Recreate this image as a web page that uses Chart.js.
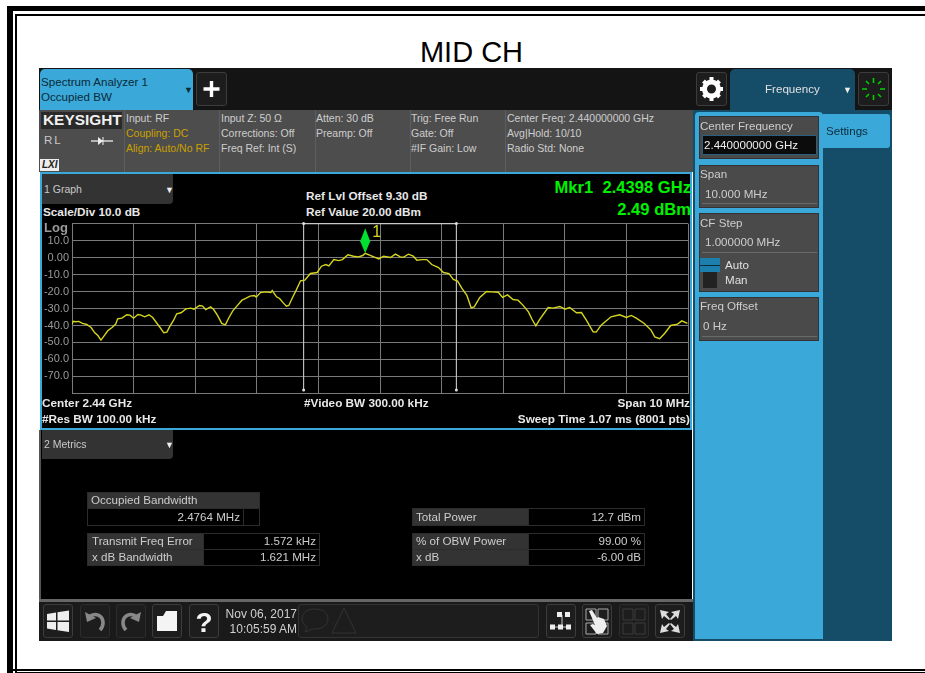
<!DOCTYPE html>
<html>
<head>
<meta charset="utf-8">
<title>MID CH</title>
<script src="https://cdn.jsdelivr.net/npm/chart.js@4"></script>
<style>
  html, body { margin: 0; padding: 0; background: #fff; overflow: hidden; }
  body { width: 925px; height: 673px; position: relative; font-family: "Liberation Sans", Arial, sans-serif; }
  .abs, .t { position: absolute; }
  .t { white-space: nowrap; font-size: 11.6px; line-height: 14px; color: #cdcdcd; }
  .b { font-weight: bold; color: #e8e8e8; }
  .r { text-align: right; }
  .y { color: #c9a000; }
  .g { color: #00f000; font-weight: bold; font-size: 16.6px; line-height: 18px; }
  .sm { font-size: 10.5px; }
  .bt { font-size: 11.75px; }
  .card { position: absolute; background: #4a4a4a; border: 1px solid #333; box-sizing: border-box; }
  .btn { position: absolute; background: #1d1d1d; border: 1px solid #3c3c3c; border-radius: 3px; box-sizing: border-box; }
  .btn svg { position: absolute; left: 0; top: 0; }
  .cell { position: absolute; box-sizing: border-box; border: 1px solid #2c2c2c; background: #000; }
  .lab { background: #333; }
  #screen { position: absolute; left: 0; top: 0; width: 925px; height: 673px; filter: blur(0.35px); }
</style>
</head>
<body>
<!-- page frame -->
<div class="abs" style="left:7px;top:6px;width:918px;height:5px;background:#000"></div>
<div class="abs" style="left:7px;top:6px;width:6px;height:667px;background:#000"></div>
<div class="abs" style="left:15px;top:14px;width:910px;height:2px;background:#000"></div>
<div class="abs" style="left:15px;top:14px;width:2px;height:659px;background:#000"></div>
<div class="abs" style="left:7px;top:669px;width:918px;height:2px;background:#000"></div>
<div class="abs" style="left:15px;top:672px;width:910px;height:1px;background:#000"></div>
<div class="t" style="left:0;top:36px;width:943px;text-align:center;font-size:29px;line-height:32px;color:#000">MID CH</div>

<div id="screen">
  <div class="abs" style="left:39px;top:68px;width:853px;height:42px;background:#141414"></div>
  <!-- left tab -->
  <div class="abs" style="left:40px;top:69px;width:153px;height:41px;background:#3aa8d8;border-radius:5px 5px 0 0"></div>
  <div class="t" style="left:41px;top:74px;color:#0b2a3a;line-height:15px">Spectrum Analyzer 1<br>Occupied BW</div>
  <div class="t" style="left:184px;top:83px;color:#0b2a3a;font-size:9px">▼</div>
  <div class="btn" style="left:196px;top:72px;width:31px;height:34px"><svg width="29" height="32"><path d="M14.5 8v16M6.5 16h16" stroke="#fff" stroke-width="3.4"/></svg></div>

  <!-- info bar -->
  <div class="abs" style="left:39px;top:110px;width:654px;height:62px;background:#4d4d4d"></div>
  <div class="abs" style="left:41px;top:112px;width:81px;height:17px;background:#2a2a2a"></div>
  <div class="t" style="left:43px;top:111px;font-size:15.4px;line-height:17px;font-weight:bold;color:#f0f0f0">KEYSIGHT</div>
  <div class="abs" style="left:124px;top:110px;width:1px;height:62px;background:#5e5e5e"></div>
  <div class="abs" style="left:219px;top:110px;width:1px;height:62px;background:#5e5e5e"></div>
  <div class="abs" style="left:315px;top:110px;width:1px;height:62px;background:#5e5e5e"></div>
  <div class="abs" style="left:410px;top:110px;width:1px;height:62px;background:#5e5e5e"></div>
  <div class="abs" style="left:505px;top:110px;width:1px;height:62px;background:#5e5e5e"></div>
  <div class="t" style="left:44px;top:133px;letter-spacing:2px;color:#c8c8c8">RL</div>
  <svg class="abs" style="left:90px;top:135px" width="24" height="12"><path d="M1 6h22" stroke="#eee" stroke-width="1.3"/><path d="M8 2l5 4-5 4z" fill="#eee"/><path d="M13 2v8" stroke="#eee"/></svg>
  <div class="abs" style="left:40px;top:159px;width:19px;height:12px;background:#eee"></div>
  <div class="t" style="left:42px;top:158px;font-size:10px;font-weight:bold;font-style:italic;color:#222">LXI</div>

  <div class="t sm" style="left:126px;top:111px;line-height:15px">Input: RF<br><span class="y">Coupling: DC<br>Align: Auto/No RF</span></div>
  <div class="t sm" style="left:221px;top:111px;line-height:15px">Input Z: 50 Ω<br>Corrections: Off<br>Freq Ref: Int (S)</div>
  <div class="t sm" style="left:316px;top:111px;line-height:15px">Atten: 30 dB<br>Preamp: Off</div>
  <div class="t sm" style="left:411px;top:111px;line-height:15px">Trig: Free Run<br>Gate: Off<br>#IF Gain: Low</div>
  <div class="t sm" style="left:507px;top:111px;line-height:15px">Center Freq: 2.440000000 GHz<br>Avg|Hold: 10/10<br>Radio Std: None</div>

  <!-- graph window -->
  <div class="abs" style="left:40px;top:172px;width:652px;height:258px;background:#000;box-sizing:border-box;border:2px solid #3aa8d8"></div>
  <div class="abs" style="left:42px;top:174px;width:131px;height:30px;background:#333;border-radius:0 0 4px 0"></div>
  <div class="t sm" style="left:44px;top:182px;color:#c8c8c8">1 Graph</div>
  <div class="t" style="left:165px;top:183px;font-size:9px;color:#eee">▼</div>
  <div class="t b bt" style="left:43px;top:205px">Scale/Div 10.0 dB</div>
  <div class="t b bt" style="left:306px;top:189px">Ref Lvl Offset 9.30 dB</div>
  <div class="t b bt" style="left:306px;top:205px">Ref Value 20.00 dBm</div>
  <div class="t g r" style="left:490px;top:179px;width:201px">Mkr1&nbsp; 2.4398 GHz</div>
  <div class="t g r" style="left:490px;top:201px;width:201px">2.49 dBm</div>
  <div class="abs" style="left:42px;top:214px;width:650px;height:189px">
    <canvas id="trace" width="650" height="189" style="display:block;width:650px;height:189px"></canvas>
  </div>
  <div class="t" style="left:44px;top:221px;color:#9a9a9a;font-weight:bold;font-size:13px">Log</div>
  <div class="t b bt" style="left:42px;top:396px">Center 2.44 GHz</div>
  <div class="t b bt" style="left:42px;top:412px">#Res BW 100.00 kHz</div>
  <div class="t b bt" style="left:304px;top:396px">#Video BW 300.00 kHz</div>
  <div class="t b bt r" style="left:490px;top:396px;width:200px">Span 10 MHz</div>
  <div class="t b bt r" style="left:440px;top:412px;width:250px">Sweep Time 1.07 ms (8001 pts)</div>

  <!-- metrics window -->
  <div class="abs" style="left:40px;top:430px;width:652px;height:172px;background:#000"></div>
  <div class="abs" style="left:39px;top:430px;width:2px;height:172px;background:#555"></div>
  <div class="abs" style="left:42px;top:430px;width:131px;height:29px;background:#333;border-radius:0 0 4px 0"></div>
  <div class="t sm" style="left:44px;top:437px;color:#c8c8c8">2 Metrics</div>
  <div class="t" style="left:165px;top:438px;font-size:9px;color:#eee">▼</div>

  <div class="cell lab" style="left:87px;top:492px;width:173px;height:17px"></div>
  <div class="t" style="left:91px;top:493px">Occupied Bandwidth</div>
  <div class="cell" style="left:87px;top:508px;width:157px;height:18px"></div>
  <div class="cell" style="left:243px;top:508px;width:17px;height:18px"></div>
  <div class="t r" style="left:90px;top:510px;width:150px">2.4764 MHz</div>

  <div class="cell lab" style="left:87px;top:533px;width:117px;height:17px"></div>
  <div class="cell lab" style="left:87px;top:549px;width:117px;height:17px"></div>
  <div class="cell" style="left:203px;top:533px;width:117px;height:17px"></div>
  <div class="cell" style="left:203px;top:549px;width:117px;height:17px"></div>
  <div class="t" style="left:92px;top:534px">Transmit Freq Error</div>
  <div class="t" style="left:92px;top:550px">x dB Bandwidth</div>
  <div class="t r" style="left:210px;top:534px;width:106px">1.572 kHz</div>
  <div class="t r" style="left:210px;top:550px;width:106px">1.621 MHz</div>

  <div class="cell lab" style="left:412px;top:508px;width:117px;height:18px"></div>
  <div class="cell" style="left:528px;top:508px;width:117px;height:18px"></div>
  <div class="t" style="left:416px;top:510px">Total Power</div>
  <div class="t r" style="left:535px;top:510px;width:106px">12.7 dBm</div>
  <div class="cell lab" style="left:412px;top:533px;width:117px;height:17px"></div>
  <div class="cell lab" style="left:412px;top:549px;width:117px;height:17px"></div>
  <div class="cell" style="left:528px;top:533px;width:117px;height:17px"></div>
  <div class="cell" style="left:528px;top:549px;width:117px;height:17px"></div>
  <div class="t" style="left:416px;top:534px">% of OBW Power</div>
  <div class="t" style="left:416px;top:550px">x dB</div>
  <div class="t r" style="left:535px;top:534px;width:106px">99.00 %</div>
  <div class="t r" style="left:535px;top:550px;width:106px">-6.00 dB</div>

  <!-- bottom bar -->
  <div class="abs" style="left:39px;top:599px;width:654px;height:3px;background:#666"></div>
  <div class="abs" style="left:39px;top:602px;width:654px;height:39px;background:#1a1a1a"></div>
  <div class="btn" style="left:43px;top:604px;width:30px;height:34px"><svg width="28" height="32"><path d="M3 9l9-1.5v8H3zM13.5 7.2L25 5.5v10H13.5zM3 17h9v8L3 23.5zM13.5 17H25v10l-11.5-1.7z" fill="#eee"/></svg></div>
  <div class="btn" style="left:80px;top:604px;width:30px;height:34px;border-color:#2c2c2c"><svg width="28" height="32"><path d="M8 12c6-5 14-2 14 6 0 3-1 5-3 7" fill="none" stroke="#888" stroke-width="3.6"/><path d="M4 7l2 10 9-4z" fill="#888"/></svg></div>
  <div class="btn" style="left:116px;top:604px;width:30px;height:34px;border-color:#2c2c2c"><svg width="28" height="32"><path d="M20 12c-6-5-14-2-14 6 0 3 1 5 3 7" fill="none" stroke="#888" stroke-width="3.6"/><path d="M24 7l-2 10-9-4z" fill="#888"/></svg></div>
  <div class="btn" style="left:152px;top:604px;width:30px;height:34px"><svg width="28" height="32"><path d="M4 11l0 15h20V6H13l-3 5z" fill="#f4f4f4"/></svg></div>
  <div class="btn" style="left:189px;top:604px;width:30px;height:34px"><div class="t" style="left:0;top:4px;width:28px;text-align:center;font-size:28px;line-height:28px;font-weight:bold;color:#f4f4f4">?</div></div>
  <div class="t r" style="left:223px;top:607px;width:74px;font-size:12px;line-height:15px;color:#d0d0d0">Nov 06, 2017<br>10:05:59 AM</div>
  <div class="btn" style="left:298px;top:604px;width:241px;height:34px;border-color:#333"><svg width="70" height="32"><path d="M16 4c8 0 13 4 13 10s-6 10-13 10c-2 0-4 0-5 1l-5 2 2-5c-3-2-5-5-5-8C3 8 8 4 16 4z" fill="none" stroke="#333"/><path d="M45 3l12 25H33z" fill="none" stroke="#333"/></svg></div>
  <div class="btn" style="left:546px;top:604px;width:30px;height:34px"><svg width="28" height="32"><path d="M15 10v14M4 22h20" stroke="#ccc"/><path d="M10 7h5v5h-5zM18 7h5v5h-5zM3 19.500h5v5H3zM11 19.500h5v5h-5zM19 19.500h5v5h-5z" fill="#eee"/></svg></div>
  <div class="btn" style="left:582px;top:604px;width:30px;height:34px"><svg width="28" height="32"><path d="M3 4h10v11H3zM15 4h10v11H15zM3 18h10v11H3zM15 18h10v11H15z" fill="none" stroke="#aaa"/><path d="M6 6l3-1 5 8 1-1 6 2 3 7-4 7-6 1-7-9 3-1 2 1z" fill="#eee"/></svg></div>
  <div class="btn" style="left:619px;top:604px;width:30px;height:34px;border-color:#2c2c2c"><svg width="28" height="32"><path d="M3 4h10v11H3zM15 4h10v11H15zM3 18h10v11H3zM15 18h10v11H15z" fill="none" stroke="#3c3c3c"/></svg></div>
  <div class="btn" style="left:655px;top:604px;width:30px;height:34px"><svg width="28" height="32"><path d="M4 5l9 2-3 2 4 5-1 1-5-4-2 3zM24 5l-2 9-2-3-5 4-1-1 4-5-3-2zM4 28l2-9 2 3 5-4 1 1-4 5 3 2zM24 28l-9-2 3-2-4-5 1-1 5 4 2-3z" fill="#ddd"/></svg></div>

  <!-- right panel -->
  <div class="abs" style="left:693px;top:68px;width:199px;height:42px;background:#141414"></div>
  <div class="btn" style="left:696px;top:72px;width:31px;height:34px"><svg width="29" height="32"><circle cx="14.500" cy="16" r="7" fill="none" stroke="#fff" stroke-width="5"/><path d="M14.500 4v5M14.500 23v5M3 16h5M21 16h5M6.500 8l3.500 3.500M19 20.500l3.500 3.500M22.500 8L19 11.500M10 20.500L6.500 24" stroke="#fff" stroke-width="4"/></svg></div>
  <div class="abs" style="left:730px;top:69px;width:125px;height:41px;background:#154d68;border-radius:5px 5px 0 0"></div>
  <div class="t" style="left:765px;top:82px;color:#e0e0e0">Frequency</div>
  <div class="t" style="left:843px;top:83px;font-size:9px;color:#eee">▼</div>
  <div class="btn" style="left:858px;top:72px;width:31px;height:34px"><svg width="29" height="32"><g stroke="#00d000" stroke-width="1.6"><path d="M14.500 5v5M14.500 22v5M3 16h5M21 16h5M7 8l3 3M19 21l3 3M22 8l-3 3M10 21l-3 3"/></g></svg></div>
  <div class="abs" style="left:693px;top:110px;width:199px;height:531px;background:#154d68"></div>
  <div class="abs" style="left:695px;top:112px;width:128px;height:527px;background:#3aa8d8;border-radius:4px 4px 0 0"></div>
  <div class="abs" style="left:823px;top:114px;width:67px;height:34px;background:#3aa8d8;border-radius:0 3px 3px 0"></div>
  <div class="t" style="left:826px;top:124px;color:#0b2a3a">Settings</div>

  <div class="card" style="left:699px;top:116px;width:120px;height:43px"></div>
  <div class="t" style="left:700px;top:119px">Center Frequency</div>
  <div class="abs" style="left:702px;top:135px;width:115px;height:20px;background:#0c0c0c;box-sizing:border-box;border:1px solid #2a5f80"></div>
  <div class="t" style="left:704px;top:138px;color:#eee">2.440000000 GHz</div>

  <div class="card" style="left:699px;top:165px;width:120px;height:43px"></div>
  <div class="t" style="left:700px;top:167px">Span</div>
  <div class="t" style="left:705px;top:187px">10.000 MHz</div>
  <div class="abs" style="left:702px;top:203px;width:115px;height:1px;background:#6a6a6a"></div>

  <div class="card" style="left:699px;top:213px;width:120px;height:79px"></div>
  <div class="t" style="left:700px;top:216px">CF Step</div>
  <div class="t" style="left:705px;top:235px">1.000000 MHz</div>
  <div class="abs" style="left:702px;top:252px;width:115px;height:1px;background:#6a6a6a"></div>
  <div class="abs" style="left:700px;top:258px;width:20px;height:14px;background:#1d7fae"></div>
  <div class="abs" style="left:700px;top:265px;width:20px;height:1px;background:#0b2a3a"></div>
  <div class="abs" style="left:703px;top:272px;width:14px;height:16px;background:#222"></div>
  <div class="t" style="left:725px;top:258px;color:#e0e0e0">Auto</div>
  <div class="t" style="left:725px;top:273px;color:#e0e0e0">Man</div>

  <div class="card" style="left:699px;top:297px;width:120px;height:44px"></div>
  <div class="t" style="left:700px;top:299px">Freq Offset</div>
  <div class="t" style="left:703px;top:319px">0 Hz</div>
  <div class="abs" style="left:702px;top:336px;width:115px;height:1px;background:#6a6a6a"></div>
</div>

<script>
// frequency offset from center (MHz), level (dBm)
const traceMHz = [
  -5.00, -4.98, -4.94, -4.89, -4.83, -4.76, -4.69, -4.63, -4.58, -4.53,
  -4.47, -4.42, -4.35, -4.29, -4.26, -4.19, -4.11, -4.06, -4.00, -3.93,
  -3.88, -3.82, -3.75, -3.69, -3.64, -3.57, -3.51, -3.46, -3.41, -3.35,
  -3.30, -3.23, -3.15, -3.07, -3.02, -2.93, -2.88, -2.83, -2.75, -2.70,
  -2.64, -2.57, -2.51, -2.46, -2.39, -2.31, -2.24, -2.18, -2.11, -2.04,
  -2.01, -1.94, -1.86, -1.77, -1.75, -1.68, -1.63, -1.57, -1.52, -1.48,
  -1.42, -1.36, -1.29, -1.22, -1.13, -1.02, -0.95, -0.88, -0.83, -0.75,
  -0.67, -0.61, -0.52, -0.43, -0.35, -0.28, -0.24, -0.13, -0.02, 0.06,
  0.17, 0.25, 0.33, 0.38, 0.46, 0.54, 0.60, 0.68, 0.76, 0.84,
  0.95, 1.03, 1.12, 1.19, 1.26, 1.33, 1.41, 1.48, 1.53, 1.62,
  1.73, 1.81, 1.92, 1.99, 2.07, 2.16, 2.24, 2.32, 2.41, 2.47,
  2.53, 2.59, 2.73, 2.81, 2.92, 3.00, 3.08, 3.19, 3.27, 3.35,
  3.46, 3.51, 3.59, 3.75, 3.89, 4.00, 4.08, 4.16, 4.29, 4.40,
  4.46, 4.54, 4.62, 4.72, 4.83, 4.90, 4.99
];
const traceDbm = [
  -39.2, -37.5, -37.8, -37.6, -38.8, -39.4, -41.2, -44.3, -45.9, -48.6,
  -45.7, -43.1, -41.2, -39.2, -36.1, -35.7, -33.7, -33.9, -35.7, -33.5,
  -33.9, -34.9, -33.7, -35.3, -37.8, -41.2, -44.3, -43.9, -40.4, -36.9,
  -33.1, -32.5, -30.2, -29.8, -30.4, -28.2, -28.6, -30.6, -29.0, -30.6,
  -33.9, -38.8, -39.6, -35.9, -31.4, -28.0, -25.1, -24.1, -22.7, -22.4,
  -23.3, -20.6, -20.2, -20.6, -19.4, -23.1, -24.1, -26.7, -28.6, -28.2,
  -23.5, -19.2, -13.7, -13.3, -9.4, -8.8, -5.1, -4.1, -4.9, -1.2,
  -1.8, -1.2, 1.6, 0.8, 0.4, 1.2, 2.49, 0.8, -0.8, 0.8,
  0.0, 2.0, 0.4, 0.2, 2.0, 0.8, -1.6, -1.2, -1.2, -4.1,
  -5.9, -8.8, -9.4, -12.9, -13.9, -18.2, -22.2, -29.6, -29.0, -23.5,
  -20.0, -20.2, -20.4, -23.5, -22.0, -24.7, -25.1, -28.0, -32.0, -36.5,
  -40.2, -36.5, -29.4, -29.8, -28.8, -30.4, -29.4, -32.5, -32.4, -36.9,
  -43.7, -43.9, -39.8, -34.9, -33.7, -35.3, -34.1, -35.7, -38.8, -42.7,
  -46.7, -47.8, -44.7, -40.0, -39.2, -37.3, -38.8
];
// occupied bandwidth bracket
const obwMHz = [-1.24, -1.24, 1.24, 1.24];
const obwDbm = [-78, 20, 20, -78];
const markerMHz = [-0.24];
const markerDbm = [2.49];
const yTickLabels = { '10': '10.0', '0': '0.00', '-10': '-10.0', '-20': '-20.0', '-30': '-30.0', '-40': '-40.0', '-50': '-50.0', '-60': '-60.0', '-70': '-70.0' };

function toXY(xs, ys) {
  return xs.map(function (x, i) {
    return { x: x, y: ys[i] };
  });
}

// marker diamond drawn above its point, like on the instrument
const markerPlugin = {
  id: 'marker',
  afterDatasetsDraw: function (chart) {
    const ctx = chart.ctx;
    const px = chart.scales.x.getPixelForValue(markerMHz[0]);
    const py = chart.scales.y.getPixelForValue(markerDbm[0]);
    ctx.save();
    ctx.fillStyle = '#00e030';
    ctx.beginPath();
    ctx.moveTo(px, py);
    ctx.lineTo(px + 5, py - 12);
    ctx.lineTo(px, py - 25);
    ctx.lineTo(px - 5, py - 12);
    ctx.closePath();
    ctx.fill();
    ctx.fillStyle = '#d8d820';
    ctx.font = '16px "Liberation Sans"';
    ctx.fillText('1', px + 7, py - 16);
    ctx.restore();
  },
};

new Chart(document.getElementById('trace'), {
  type: 'line',
  data: {
    datasets: [
      {
        data: toXY(traceMHz, traceDbm),
        borderColor: '#d6d61e',
        borderWidth: 1.4,
        pointRadius: 0,
        tension: 0,
      },
      {
        data: toXY(obwMHz, obwDbm),
        borderColor: '#c8c8c8',
        borderWidth: 1.1,
        pointRadius: [1.5, 1.5, 1.5, 1.5],
        pointBackgroundColor: '#e0e0e0',
        pointBorderWidth: 0,
        tension: 0,
        clip: false,
      },
    ],
  },
  options: {
    responsive: false,
    animation: false,
    events: [],
    layout: { padding: { left: 0, right: 2, top: 0, bottom: 0 } },
    plugins: { legend: { display: false }, tooltip: { enabled: false } },
    scales: {
      x: {
        type: 'linear',
        min: -5,
        max: 5,
        afterFit: function (s) {
          s.height = 0;
        },
        ticks: { stepSize: 1, display: false },
        grid: { color: '#7a7a7a', lineWidth: 1, drawTicks: false },
        border: { color: '#7a7a7a' },
      },
      y: {
        min: -80,
        max: 20,
        afterFit: function (s) {
          s.width = 30;
        },
        ticks: {
          stepSize: 10,
          autoSkip: false,
          padding: 3,
          color: '#9a9a9a',
          font: { family: 'Liberation Sans', size: 11 },
          callback: function (v) {
            return yTickLabels[v] || '';
          },
        },
        grid: { color: '#7a7a7a', lineWidth: 1, drawTicks: false },
        border: { color: '#7a7a7a' },
      },
    },
  },
  plugins: [markerPlugin],
});
</script>
</body>
</html>
